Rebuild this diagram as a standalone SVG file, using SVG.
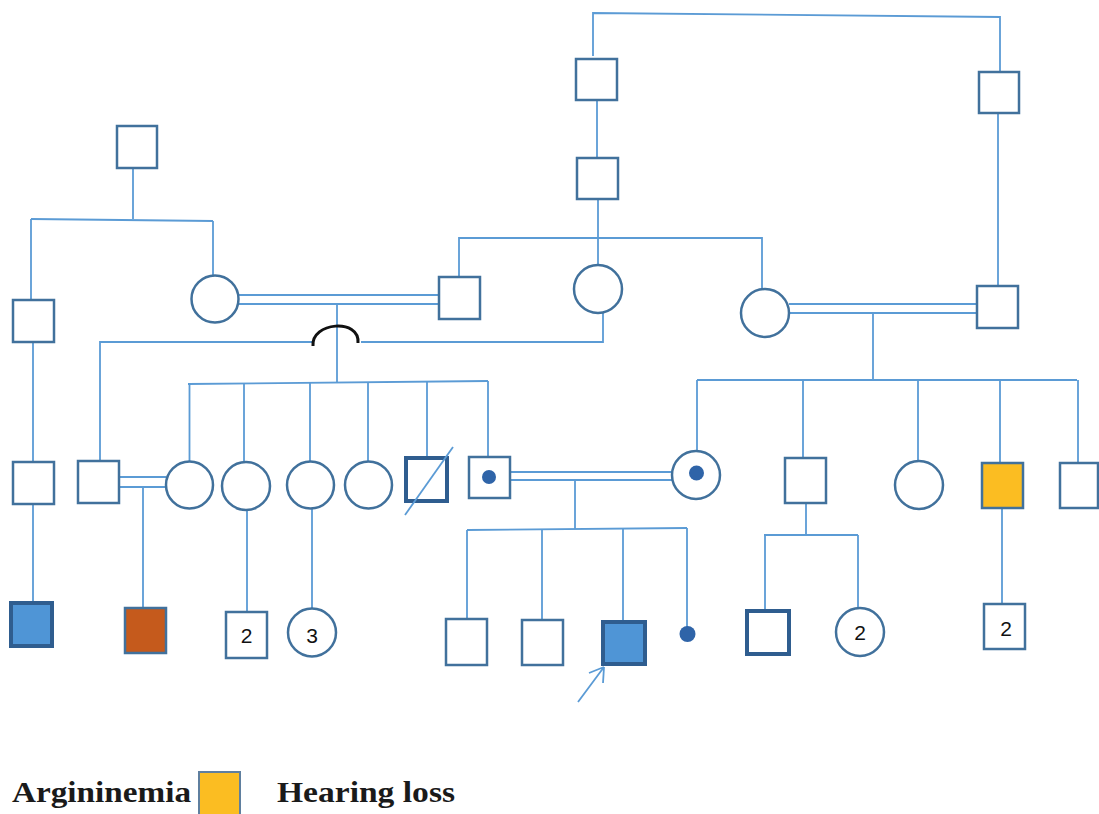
<svg xmlns="http://www.w3.org/2000/svg" width="1099" height="814" viewBox="0 0 1099 814">
<style>
.ln{fill:none;stroke:#5b9bd5;stroke-width:1.8}
.nd{fill:#fff;stroke:#41719c;stroke-width:2.5}
.thk{stroke:#2f5d8f;stroke-width:4}
.dot{fill:#2f64a8}
.num{font-family:"Liberation Sans","DejaVu Sans",sans-serif;font-size:21px;text-anchor:middle;fill:#111}
.lg{font-family:"Liberation Serif","Times New Roman",serif;font-weight:bold;font-size:29px;fill:#1a1a1a}
</style>
<rect width="1099" height="814" fill="#fff"/>
<g id="connectors">
<path class="ln" d="M593,56 V13 L1000,17 V72"/>
<path class="ln" d="M597,100 V158"/>
<path class="ln" d="M598,199 V265"/>
<path class="ln" d="M459,277 V238 H762 V289"/>
<path class="ln" d="M998,113 V286"/>
<path class="ln" d="M133,168 V219"/>
<path class="ln" d="M31,219 L213,221"/>
<path class="ln" d="M31,219 V300"/>
<path class="ln" d="M213,221 V275"/>
<path class="ln" d="M238,295 H439 M238,304 H439"/>
<path class="ln" d="M337,304 V383"/>
<path class="ln" d="M188,384 L488,381"/>
<path class="ln" d="M189.5,384 V461 M244,383 V462 M310,382 V461 M368,382 V461 M427,381 V458 M488,381 V457"/>
<path class="ln" d="M33,342 V462 M33,504 V603"/>
<path class="ln" d="M100,461 V342 H313 M361,342 H603 V313"/>
<path d="M313,346 C311,322 360,318 358,343" fill="none" stroke="#111" stroke-width="3"/>
<path class="ln" d="M119,477 H166 M119,487 H166 M143,487 V608"/>
<path class="ln" d="M247,511 V612 M312,509 V608"/>
<path class="ln" d="M789,304 H977 M789,313 H977 M873,313 V379"/>
<path class="ln" d="M697,380 H1077"/>
<path class="ln" d="M697,380 V451 M803,380 V458 M918,380 V460 M1000,380 V463 M1078,380 V463"/>
<path class="ln" d="M510,472 H673 M510,480 H673 M575,480 V529"/>
<path class="ln" d="M467,530 L687,528"/>
<path class="ln" d="M467,530 V619 M542,529 V620 M623,529 V622 M687,528 V627"/>
<path class="ln" d="M806,503 V535 M764,535 H858 M765,535 V611 M858,535 V608"/>
<path class="ln" d="M1002,508 V604"/>
<path class="ln" d="M578,702 L604,667 M604,667 L589,673 M604,667 L603,683"/>
</g>
<g id="g1-left"><rect class="nd" x="117" y="126" width="40" height="42"/></g>
<g id="g1-mid"><rect class="nd" x="576" y="59" width="41" height="41"/></g>
<g id="g1-right"><rect class="nd" x="979" y="72" width="40" height="41"/></g>
<g id="g2-mid"><rect class="nd" x="577" y="158" width="41" height="41"/></g>
<g id="g2-left-m"><rect class="nd" x="13" y="300" width="41" height="42"/></g>
<g id="g2-left-f"><circle class="nd" cx="215" cy="299" r="23.5"/></g>
<g id="g2-husband"><rect class="nd" x="439" y="277" width="41" height="42"/></g>
<g id="g2-sister"><circle class="nd" cx="598" cy="289" r="24"/></g>
<g id="g2-right-f"><circle class="nd" cx="765" cy="313" r="24"/></g>
<g id="g2-right-m"><rect class="nd" x="977" y="286" width="41" height="42"/></g>
<g id="g3-a"><rect class="nd" x="13" y="462" width="41" height="42"/></g>
<g id="g3-b"><rect class="nd" x="78" y="461" width="41" height="42"/></g>
<g id="g3-c1"><circle class="nd" cx="189.5" cy="485" r="23.5"/></g>
<g id="g3-c2"><circle class="nd" cx="246" cy="486" r="24"/></g>
<g id="g3-c3"><circle class="nd" cx="310.5" cy="485" r="23.5"/></g>
<g id="g3-c4"><circle class="nd" cx="368.5" cy="485" r="23.5"/></g>
<g id="g3-deceased"><rect class="nd thk" x="406" y="458" width="41" height="43"/><line x1="405" y1="515" x2="453" y2="447" stroke="#5b9bd5" stroke-width="1.8"/></g>
<g id="g3-carrier-m"><rect class="nd" x="469" y="457" width="41" height="41"/><circle class="dot" cx="489" cy="477" r="7"/></g>
<g id="g3-carrier-f"><circle class="nd" cx="696" cy="475" r="24"/><circle class="dot" cx="696.5" cy="473" r="7.5"/></g>
<g id="g3-d"><rect class="nd" x="785" y="458" width="41" height="45"/></g>
<g id="g3-e"><circle class="nd" cx="919" cy="485" r="24"/></g>
<g id="g3-hearing"><rect class="nd" x="982" y="463" width="41" height="45" fill="#fbbd22" style="fill:#fbbd22"/></g>
<g id="g3-f"><rect class="nd" x="1060" y="463" width="38" height="45"/></g>
<g id="g4-a"><rect class="nd thk" x="11" y="603" width="41" height="43" style="fill:#4f95d6"/></g>
<g id="g4-b"><rect class="nd" x="125" y="608" width="41" height="45" style="fill:#c55a1c"/></g>
<g id="g4-c"><rect class="nd" x="226" y="612" width="41" height="46"/><text class="num" x="246.5" y="643">2</text></g>
<g id="g4-d"><circle class="nd" cx="312" cy="632.5" r="24"/><text class="num" x="312" y="643">3</text></g>
<g id="g4-e"><rect class="nd" x="446" y="619" width="41" height="46"/></g>
<g id="g4-f"><rect class="nd" x="522" y="620" width="41" height="45"/></g>
<g id="g4-proband"><rect class="nd thk" x="603" y="622" width="42" height="42" style="fill:#4f95d6"/></g>
<g id="g4-g"><circle class="dot" cx="687.5" cy="634" r="8"/></g>
<g id="g4-h"><rect class="nd thk" x="747" y="611" width="42" height="43"/></g>
<g id="g4-i"><circle class="nd" cx="860" cy="632" r="24"/><text class="num" x="860" y="640">2</text></g>
<g id="g4-j"><rect class="nd" x="984" y="604" width="41" height="45"/><text class="num" x="1006" y="636">2</text></g>
<g id="legend">
<text class="lg" x="12" y="802" textLength="179" lengthAdjust="spacingAndGlyphs">Argininemia</text>
<rect x="199" y="772" width="41" height="46" fill="#fbbd22" stroke="#5f7f9f" stroke-width="2"/>
<text class="lg" x="277" y="802" textLength="178" lengthAdjust="spacingAndGlyphs">Hearing loss</text>
</g>
</svg>
